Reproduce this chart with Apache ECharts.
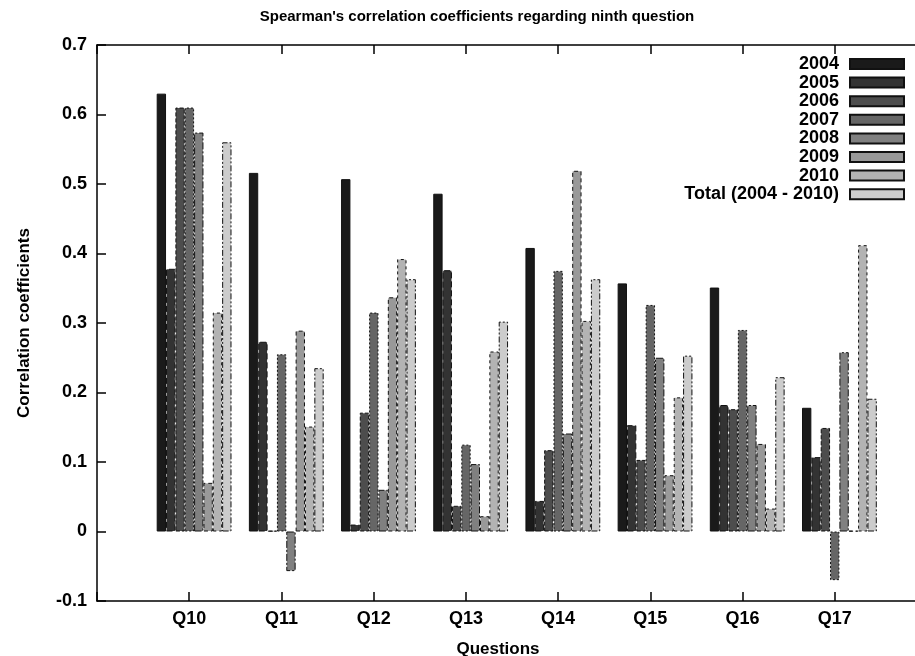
<!DOCTYPE html>
<html>
<head>
<meta charset="utf-8">
<script src="https://cdn.jsdelivr.net/npm/echarts@6/dist/echarts.min.js"></script>
<style>
html,body{margin:0;padding:0;background:#fff;}
#chart{width:915px;height:656px;}
</style>
</head>
<body>
<div id="chart"></div>
<script>
const categories = ['Q10','Q11','Q12','Q13','Q14','Q15','Q16','Q17'];
const seriesNames = ['2004','2005','2006','2007','2008','2009','2010','Total (2004 - 2010)'];
const v2004  = [0.630, 0.516, 0.507, 0.486, 0.408, 0.357, 0.351, 0.178];
const v2005  = [0.378, 0.273, 0.010, 0.376, 0.044, 0.153, 0.182, 0.107];
const v2006  = [0.610, 0.001, 0.171, 0.037, 0.117, 0.103, 0.176, 0.149];
const v2007  = [0.610, 0.255, 0.315, 0.125, 0.375, 0.326, 0.290, -0.070];
const v2008  = [0.574, -0.057, 0.060, 0.097, 0.141, 0.250, 0.182, 0.258];
const v2009  = [0.070, 0.289, 0.337, 0.022, 0.519, 0.081, 0.126, 0.001];
const v2010  = [0.315, 0.151, 0.392, 0.259, 0.303, 0.193, 0.033, 0.412];
const vTotal = [0.560, 0.235, 0.363, 0.302, 0.363, 0.253, 0.222, 0.191];
const yTicks = { min: -0.1, max: 0.7, step: 0.1 };

const allValues = [v2004, v2005, v2006, v2007, v2008, v2009, v2010, vTotal];
const fills = ['#1a1a1a','#333333','#4d4d4d','#666666','#808080','#999999','#b3b3b3','#cccccc'];
const dashes = ['solid',[6,3],[4,2],[2,2],[7,2,2,2],[4,3],[3,3],[6,2,2,2,2,2]];
const FONT = "'Liberation Sans', Arial, sans-serif";

const chart = echarts.init(document.getElementById('chart'), null, {renderer:'canvas'});
const axisLineStyle = {color:'#000', width:1.5};

const series = seriesNames.map((name, i) => ({
  name: name,
  type: 'bar',
  xAxisIndex: 2,
  yAxisIndex: 1,
  data: allValues[i],
  barWidth: 9.35,
  barGap: '0%',
  itemStyle: {color: fills[i], borderColor: '#111', borderWidth: 1, borderType: dashes[i]}
}));

const option = {
  animation: false,
  backgroundColor: '#fff',
  textStyle: {fontFamily: FONT},
  title: [
    {text: "Spearman's correlation coefficients regarding ninth question", left: 472, top: 4, textAlign: 'center',
     textStyle: {fontFamily: FONT, fontSize: 15, fontWeight: 'bold', color: '#000'}},
    {text: 'Questions', left: 493, top: 636, textAlign: 'center',
     textStyle: {fontFamily: FONT, fontSize: 17, fontWeight: 'bold', color: '#000'}}
  ],
  legend: {
    data: seriesNames,
    orient: 'vertical',
    right: 5,
    top: 50,
    align: 'right',
    icon: 'rect',
    itemWidth: 54,
    itemHeight: 10,
    itemGap: 0.6,
    textStyle: {fontFamily: FONT, fontSize: 18, fontWeight: 'bold', color: '#000', padding: [0, 6, 0, 0], lineHeight: 17}
  },
  grid: [
    {left: 97, right: -12, top: 45, bottom: 55, outerBoundsMode: 'none', containLabel: false},
    {left: 148, right: 29.5, top: 45, bottom: 55, outerBoundsMode: 'none', containLabel: false}
  ],
  xAxis: [
    {type: 'value', gridIndex: 0, min: 0, max: 9, interval: 1, position: 'bottom',
     axisLine: {onZero: false, lineStyle: axisLineStyle},
     axisTick: {inside: true, length: 9, lineStyle: axisLineStyle},
     axisLabel: {formatter: v => categories[v - 1] || '', fontFamily: FONT, fontSize: 18, fontWeight: 'bold', color: '#000', margin: 9},
     splitLine: {show: false}},
    {type: 'value', gridIndex: 0, min: 0, max: 9, interval: 1, position: 'top',
     axisLine: {onZero: false, lineStyle: axisLineStyle},
     axisTick: {inside: true, length: 9, lineStyle: axisLineStyle},
     axisLabel: {show: false}, splitLine: {show: false}},
    {type: 'category', gridIndex: 1, data: categories, show: false}
  ],
  yAxis: [
    {type: 'value', gridIndex: 0, min: yTicks.min, max: yTicks.max, interval: yTicks.step,
     axisLine: {show: true, onZero: false, lineStyle: axisLineStyle},
     axisTick: {show: true, inside: true, length: 9, lineStyle: axisLineStyle},
     axisLabel: {fontFamily: FONT, fontSize: 18, fontWeight: 'bold', color: '#000', margin: 10},
     splitLine: {show: false},
     name: 'Correlation coefficients', nameLocation: 'middle', nameGap: 64,
     nameTextStyle: {fontFamily: FONT, fontSize: 17, fontWeight: 'bold', color: '#000'}},
    {type: 'value', gridIndex: 1, min: yTicks.min, max: yTicks.max, interval: yTicks.step, show: false}
  ],
  series: series
};
chart.setOption(option);
</script>
</body>
</html>
